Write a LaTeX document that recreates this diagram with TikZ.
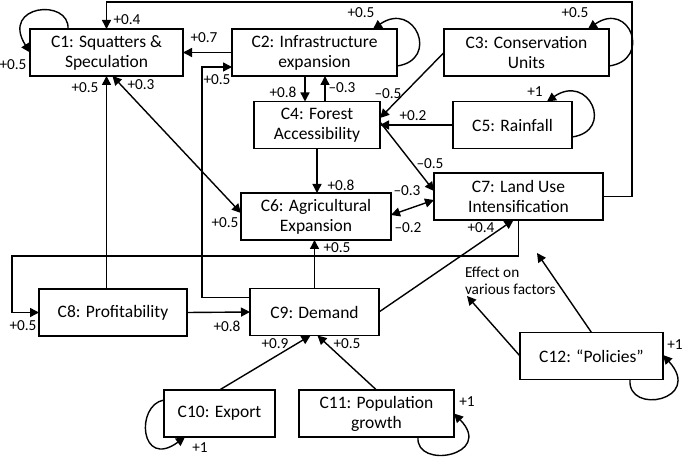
\documentclass[tikz,border=0pt]{standalone}
\usepackage{fontspec}
\setmainfont{Carlito}
\usetikzlibrary{arrows.meta,calc}

\begin{document}
\begin{tikzpicture}[x=1pt, y=-1pt,
      every node/.style={inner sep=0pt, outer sep=0pt},
      box/.style={draw, line width=1.4pt, fill=white, align=center, minimum height=47pt,
        font=\fontsize{17.5}{20}\selectfont},
      wt/.style={font=\fontsize{15.3}{17}\selectfont},
      arr/.style={line width=1.4pt, -{Triangle[length=9pt,width=9pt]}},
      darr/.style={line width=1.4pt, {Triangle[length=9pt,width=9pt]}-{Triangle[length=9pt,width=9pt]}}]
      \useasboundingbox (0,0) rectangle (685,462);
      % Concepts
      \node[box, minimum width=153] (c1) at (106.5,52.5) {C1: Squatters \&\\Speculation};
      \node[box, minimum width=165] (c2) at (314.5,52.5) {C2: Infrastructure\\expansion};
      \node[box, minimum width=165] (c3) at (526.5,52.5) {C3: Conservation\\Units};
      \node[box, minimum width=126] (c4) at (317,125) {C4: Forest\\Accessibility};
      \node[box, minimum width=119] (c5) at (512.5,125) {C5: Rainfall};
      \node[box, minimum width=150] (c6) at (316,216.5) {C6: Agricultural\\Expansion};
      \node[box, minimum width=169] (c7) at (518.5,196.5) {C7: Land Use\\Intensification};
      \node[box, minimum width=148] (c8) at (113,312.5) {C8: Profitability};
      \node[box, minimum width=129] (c9) at (314.5,312) {C9: Demand};
      \node[box, minimum width=111] (c10) at (219.5,413.5) {C10: Export};
      \node[box, minimum width=155] (c11) at (376.5,413.5) {C11: Population\\growth};
      \node[box, minimum width=143] (c12) at (591.5,356) {C12: “Policies”};
      % Corners and free ends
      \coordinate (top) at (632,2);
      \coordinate (lft) at (12,256);
      \coordinate (fx1) at (467,296);
      \coordinate (fx2) at (537,253);
      \path ([xshift=-12pt]c4.north) coordinate (c4a) ([xshift=8pt]c4.north) coordinate (c4b);
      % Self loops
      \draw[arr] ($(c1.north west)+(38,0)$) .. controls +(2,-31) and +(-30,-48) .. (c1.west);
      \draw[arr] ($(c2.east)+(0,13.5)$) .. controls +(43,-6) and +(42,-29) .. ($(c2.north east)+(-24,0)$);
      \draw[arr] ($(c3.east)+(0,13.5)$) .. controls +(43,-6) and +(42,-29) .. ($(c3.north east)+(-21,0)$);
      \draw[arr] ($(c5.east)+(0,12)$) .. controls +(43,-6) and +(42,-29) .. ($(c5.north east)+(-25,0)$);
      \draw[arr] ($(c10.north west)+(0,10)$) .. controls +(-29,5) and +(-45,33) .. ($(c10.south west)+(21,0)$);
      \draw[arr] ($(c11.south east)+(-36,0)$) .. controls +(-3,33) and +(41,42) .. (c11.east);
      \draw[arr] ($(c12.south east)+(-33,0)$) .. controls +(-3,36) and +(41,45) .. ($(c12.east)+(0,-1)$);
      % Links
      \draw[arr] (c7.east) -| (top) -| (c1.north);
      \draw[arr] (c2.west) -- (c1.east);
      \draw[arr] ($(c9.north west)+(0,9)$) -| ($(c2.south west)+(-30,-9)$) -- ($(c2.south west)+(0,-9)$);
      \draw[arr] (c4a |- c2.south) -- (c4a);
      \draw[arr] (c4b) -- (c4b |- c2.south);
      \draw[arr] (c3.west) -- ($(c4.east)+(0,-7)$);
      \draw[arr] (c5.west) -- (c4.east);
      \draw[arr] ($(c4.east)+(0,-3)$) -- ($(c7.west)+(0,-5.5)$);
      \draw[arr] (c4.south) -- (c4.south |- c6.north);
      \draw[darr] ($(c1.south)+(6,0)$) -- ($(c6.west)+(0,-3.5)$);
      \draw[arr] (c1.south |- c8.north) -- (c1.south);
      \draw[darr] ($(c6.east)+(0,-1.5)$) -- ($(c7.west)+(0,3.5)$);
      \draw[arr] (c7.south) |- (lft) |- (c8.west);
      \draw[arr] (c9.north) -- (c9.north |- c6.south);
      \draw[arr] (c8.east) -- (c9.west);
      \draw[arr] (c9.east) -- ($(c7.south)+(-5,0)$);
      \draw[arr] (c10.north) -- ($(c9.south)+(-4,0)$);
      \draw[arr] (c11.north) -- ($(c9.south)+(3,0)$);
      \draw[arr] (c12.west) -- (fx1);
      \draw[arr] (c12.north) -- (fx2);
      % Weights
      \node[wt] (w71) at (127,20) {+0.4};
      \node[wt] (w11) at (13,65) {+0.5};
      \node[wt] (w21) at (204,38) {+0.7};
      \node[wt] (w92) at (217,80) {+0.5};
      \node[wt] (w81) at (85,88) {+0.5};
      \node[wt] (w61) at (141,85) {+0.3};
      \node[wt] (w24) at (283,92) {+0.8};
      \node[wt] (w42) at (342,88) {–0.3};
      \node[wt] (w16) at (225,223) {+0.5};
      \node[wt] (w22) at (361,13) {+0.5};
      \node[wt] (w33) at (575,13) {+0.5};
      \node[wt] (w34) at (388,94) {–0.5};
      \node[wt] (w54) at (413,116) {+0.2};
      \node[wt] (w55) at (535,92) {+1};
      \node[wt] (w47) at (430,164) {–0.5};
      \node[wt] (w67) at (407,191) {–0.3};
      \node[wt] (w76) at (408,228) {–0.2};
      \node[wt] (w97) at (481,228) {+0.4};
      \node[wt] (w46) at (341,185) {+0.8};
      \node[wt] (w96) at (337,248) {+0.5};
      \node[wt] (w78) at (23,326) {+0.5};
      \node[wt] (w89) at (227,326) {+0.8};
      \node[wt] (w109) at (275,344) {+0.9};
      \node[wt] (w119) at (347,344) {+0.5};
      \node[wt] (w1010) at (200,448) {+1};
      \node[wt] (w1111) at (467,402) {+1};
      \node[wt] (w1212) at (675,345) {+1};
      \node[wt, align=left, anchor=west] (eff) at (465,281) {Effect on\\various factors};
    \end{tikzpicture}
\end{document}
